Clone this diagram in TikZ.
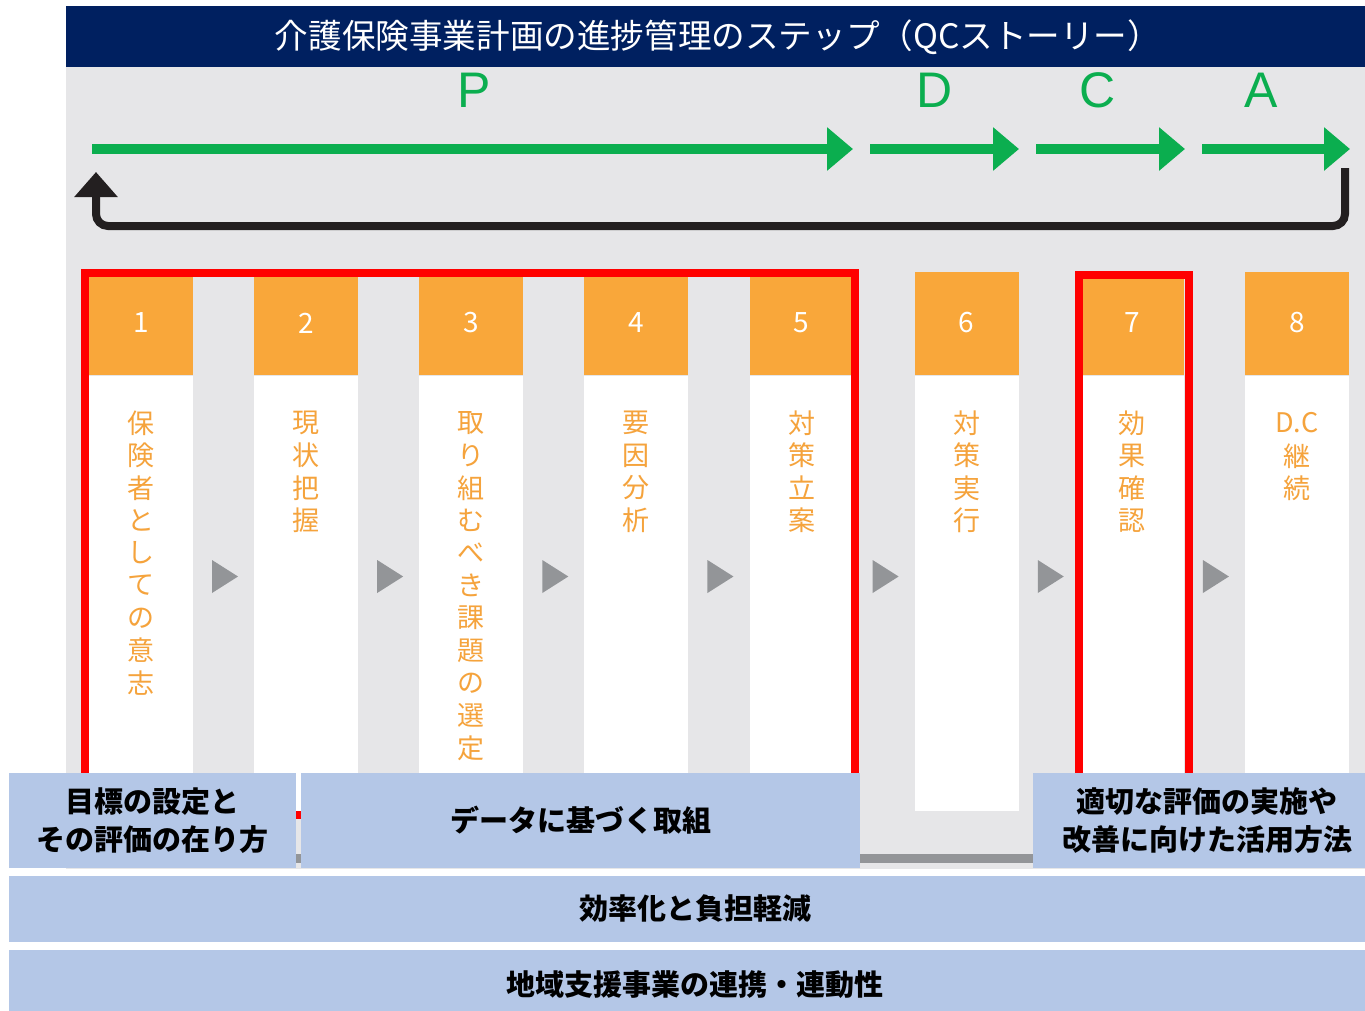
\documentclass[tikz,border=0pt]{standalone}
\usepackage{fontspec}
\setmainfont{Noto Sans CJK JP}
\newfontfamily\lat{Liberation Sans}
\usetikzlibrary{arrows.meta}
\definecolor{navy}{HTML}{002060}
\definecolor{bggrey}{HTML}{E6E6E8}
\definecolor{pdcagreen}{HTML}{0BAE4F}
\definecolor{hdrorange}{HTML}{F9A73A}
\definecolor{txtorange}{HTML}{F5A33C}
\definecolor{trigrey}{HTML}{939598}
\definecolor{boxblue}{HTML}{B4C7E7}
\definecolor{retblack}{HTML}{231F20}
\begin{document}
\begin{tikzpicture}[x=1pt,y=-1pt,
  hdr/.style={rectangle, fill=hdrorange, minimum width=104pt, minimum height=103pt, inner sep=0pt, text=white, font=\fontsize{28}{28}\selectfont},
  colbody/.style={rectangle, fill=white, minimum width=104pt, minimum height=435pt, inner sep=0pt},
  vch/.style={inner sep=0pt, text=txtorange, font=\fontsize{27}{27}\selectfont},
  pdca/.style={inner sep=0pt, text=pdcagreen, font=\lat\fontsize{50}{50}\selectfont},
  garrow/.style={draw=pdcagreen, line width=10pt, -{Triangle[width=42pt,length=26pt]}},
  retarrow/.style={draw=retblack, line width=8pt, rounded corners=12pt, -{Triangle[width=42pt,length=25pt]}},
  redframe/.style={draw=red, line width=8pt},
  bluebox/.style={rectangle, fill=boxblue, inner sep=0pt, align=center, text=black, font=\bfseries\fontsize{29}{38}\selectfont}
]
\useasboundingbox (0,0) rectangle (1365,1010);
\fill[white] (0,0) rectangle (1365,1010);
% grey background
\fill[bggrey] (66,67) rectangle (1365,869);
% title bar
\node[rectangle, fill=navy, minimum width=1299pt, minimum height=61pt, inner sep=0pt] (titlebar) at (715.5,36.5) {};
\node[inner sep=0pt, text=white, font=\fontsize{33.6}{34}\selectfont] (titletext) at (718,37) {介護保険事業計画の進捗管理のステップ（QCストーリー）};
% PDCA letters
\node[pdca] (lP) at (474,90) {P};
\node[pdca] (lD) at (935,90) {D};
\node[pdca] (lC) at (1098,90) {C};
\node[pdca] (lA) at (1261,90) {A};
% green arrows
\coordinate (g1s) at (92,149);   \coordinate (g1e) at (853,149);
\coordinate (g2s) at (870,149);  \coordinate (g2e) at (1019,149);
\coordinate (g3s) at (1036,149); \coordinate (g3e) at (1185,149);
\coordinate (g4s) at (1202,149); \coordinate (g4e) at (1350,149);
\draw[garrow] (g1s) -- (g1e);
\draw[garrow] (g2s) -- (g2e);
\draw[garrow] (g3s) -- (g3e);
\draw[garrow] (g4s) -- (g4e);
% return arrow
\coordinate (r1) at (1345,168);
\coordinate (r2) at (1345,226);
\coordinate (r3) at (96,226);
\coordinate (r4) at (96,172);
\draw[retarrow] (r1) -- (r2) -- (r3) -- (r4);
% columns
\foreach \i in {1,...,8} {
  \pgfmathsetmacro\cx{141+165.15*(\i-1)}
  \node[colbody] (b\i) at (\cx,593.5) {};
  \node[hdr] (h\i) at (\cx,323) {\i};
}
% triangles between columns
\foreach \i in {1,...,7} {
  \pgfmathsetmacro\tx{141+165.15*(\i-1)+71}
  \fill[trigrey] (\tx,560) -- (\tx+26,576.5) -- (\tx,593) -- cycle;
}
% vertical texts
\foreach \c [count=\k] in {保,険,者,と,し,て,の,意,志}
  \node[vch] (ta\k) at (141,423+32.5*\k-32.5) {\c};
\foreach \c [count=\k] in {現,状,把,握}
  \node[vch] (tb\k) at (306.15,423+32.5*\k-32.5) {\c};
\foreach \c [count=\k] in {取,り,組,む,べ,き,課,題,の,選,定}
  \node[vch] (tc\k) at (471.3,423+32.5*\k-32.5) {\c};
\foreach \c [count=\k] in {要,因,分,析}
  \node[vch] (td\k) at (636.45,423+32.5*\k-32.5) {\c};
\foreach \c [count=\k] in {対,策,立,案}
  \node[vch] (te\k) at (801.6,423+32.5*\k-32.5) {\c};
\foreach \c [count=\k] in {対,策,実,行}
  \node[vch] (tf\k) at (966.75,423+32.5*\k-32.5) {\c};
\foreach \c [count=\k] in {効,果,確,認}
  \node[vch] (tg\k) at (1131.9,423+32.5*\k-32.5) {\c};
\node[vch] (th1) at (1297.05,423) {D.C};
\node[vch] (th2) at (1297.05,456) {継};
\node[vch] (th3) at (1297.05,488) {続};
% red frames
\draw[redframe] (85,273) rectangle (855,815);
\draw[redframe] (1079,275) rectangle (1189,815);
% dark bar
\fill[trigrey] (66,854) rectangle (1365,863);
% bottom boxes
\node[bluebox, minimum width=287pt, minimum height=95pt] (bx1) at (152.5,820.5) {目標の設定と\\その評価の在り方};
\node[bluebox, minimum width=559pt, minimum height=95pt] (bx2) at (580.5,820.5) {データに基づく取組};
\node[bluebox, minimum width=348pt, minimum height=95pt] (bx3) at (1207,820.5) {適切な評価の実施や\\改善に向けた活用方法};
\node[bluebox, minimum width=1372pt, minimum height=66pt] (bx4) at (695,909) {効率化と負担軽減};
\node[bluebox, minimum width=1372pt, minimum height=70pt] (bx5) at (695,985) {地域支援事業の連携・連動性};
\end{tikzpicture}
\end{document}
